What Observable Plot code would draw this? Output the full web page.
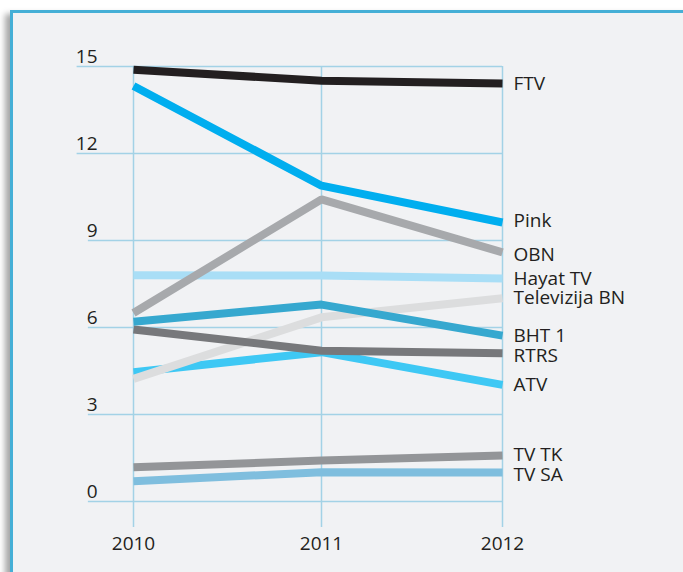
<!DOCTYPE html>
<html>
<head>
<meta charset="utf-8">
<script src="https://cdn.jsdelivr.net/npm/d3@7"></script>
<script src="https://cdn.jsdelivr.net/npm/@observablehq/plot@0.6"></script>
<style>
  html, body { margin: 0; padding: 0; background: #ffffff; width: 683px; height: 572px; overflow: hidden; }
  #panel {
    position: absolute; left: 10px; top: 10px; width: 720px; height: 620px;
    background: #f1f2f4;
    border-top: 3px solid #45afd6; border-left: 3px solid #45afd6;
    box-shadow: -5px 4px 6px rgba(0,0,0,0.35);
  }
  #chart { position: absolute; left: 0; top: 0; }
  #chart svg { background: transparent; overflow: visible; }
</style>
</head>
<body>
<div id="panel"></div>
<div id="chart"></div>
<script>
// ---- data ----
const years = [2010, 2011, 2012];
const yTicks = [0, 3, 6, 9, 12, 15];
// drawing order (bottom to top)
const channels = ["TV SA", "TV TK", "ATV", "Televizija BN", "RTRS", "BHT 1", "Hayat TV", "OBN", "Pink", "FTV"];
const tvSA  = [0.70, 1.01, 1.00];
const tvTK  = [1.18, 1.41, 1.59];
const atv   = [4.46, 5.15, 4.02];
const tvBN  = [4.23, 6.35, 7.01];
const rtrs  = [5.93, 5.20, 5.11];
const bht1  = [6.20, 6.79, 5.72];
const hayat = [7.80, 7.79, 7.69];
const obn   = [6.50, 10.42, 8.59];
const pink  = [14.33, 10.89, 9.62];
const ftv   = [14.89, 14.51, 14.41];
const colors = ["#7fbede", "#939598", "#3ec8f4", "#dcddde", "#77787b", "#36a8cf", "#a9def6", "#a7a9ac", "#00aeef", "#231f20"];

const seriesValues = [tvSA, tvTK, atv, tvBN, rtrs, bht1, hayat, obn, pink, ftv];
const rows = [];
channels.forEach((c, i) => years.forEach((yr, j) => rows.push({channel: c, year: yr, value: seriesValues[i][j]})));
const lastRows = rows.filter(d => d.year === 2012);
// labels whose text sits slightly below / above the line end in the original
const lowered = ["TV SA", "OBN", "RTRS"];
const raised = ["Pink"];

const gridColor = "#a3d2e6";
const textColor = "#231f20";
const font = "Open Sans, Noto Sans, sans-serif";

const chart = Plot.plot({
  width: 683,
  height: 572,
  style: {fontFamily: font, fontSize: "19px", color: textColor, background: "transparent", overflow: "visible"},
  x: {type: "linear", domain: [2010, 2011, 2012], range: [133, 321, 502], axis: null},
  y: {domain: [0, 15], range: [501, 66], axis: null},
  color: {domain: channels, range: colors},
  marks: [
    // horizontal gridlines (start under their labels)
    Plot.ruleY(yTicks.filter(t => t >= 10), {y: d => d, x1: 2009.70, x2: 2012, stroke: gridColor, strokeWidth: 1.5}),
    Plot.ruleY(yTicks.filter(t => t < 10), {y: d => d, x1: 2009.76, x2: 2012, stroke: gridColor, strokeWidth: 1.5}),
    // vertical gridlines
    Plot.ruleX(years, {x: d => d, y1: -0.9, y2: 15, stroke: gridColor, strokeWidth: 1.5}),
    // y tick labels
    Plot.text(yTicks, {x: 2010, y: d => d, text: d => String(d), textAnchor: "end", lineAnchor: "bottom", dx: -36, dy: -4, fill: textColor, fontSize: 19}),
    // x tick labels
    Plot.text(years, {x: d => d, y: 0, text: d => String(d), textAnchor: "middle", lineAnchor: "bottom", dy: 48, fill: textColor, fontSize: 19}),
    // lines
    Plot.line(rows, {x: "year", y: "value", z: "channel", stroke: "channel", strokeWidth: 8, strokeLinecap: "butt", strokeLinejoin: "miter"}),
    // series labels
    Plot.text(lastRows.filter(d => !lowered.includes(d.channel) && !raised.includes(d.channel)), {x: "year", y: "value", text: "channel", textAnchor: "start", lineAnchor: "middle", dx: 11, fill: textColor, fontSize: 19}),
    Plot.text(lastRows.filter(d => lowered.includes(d.channel)), {x: "year", y: "value", text: "channel", textAnchor: "start", lineAnchor: "middle", dx: 11, dy: 2.5, fill: textColor, fontSize: 19}),
    Plot.text(lastRows.filter(d => raised.includes(d.channel)), {x: "year", y: "value", text: "channel", textAnchor: "start", lineAnchor: "middle", dx: 11, dy: -2, fill: textColor, fontSize: 19})
  ]
});
document.getElementById("chart").appendChild(chart);
</script>
</body>
</html>
